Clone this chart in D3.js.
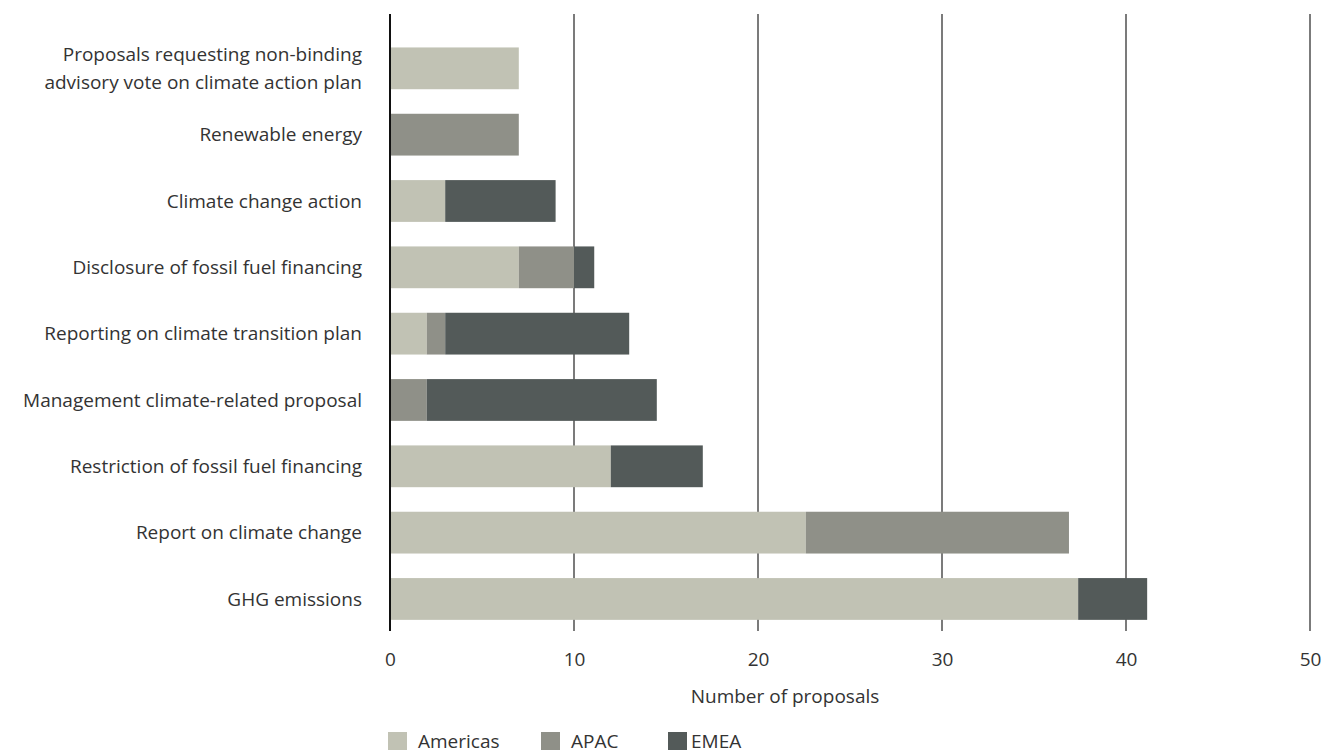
<!DOCTYPE html>
<html>
<head>
<meta charset="utf-8">
<script src="https://cdn.jsdelivr.net/npm/d3@7"></script>
<style>
  html, body { margin: 0; padding: 0; background: #fff; }
  svg { display: block; }
  text { font-family: "Open Sans", "Noto Sans", sans-serif; fill: #333; }
</style>
</head>
<body>
<svg id="chart" width="1322" height="754"></svg>
<script>
const categories = [
  "Proposals requesting non-binding|advisory vote on climate action plan",
  "Renewable energy",
  "Climate change action",
  "Disclosure of fossil fuel financing",
  "Reporting on climate transition plan",
  "Management climate-related proposal",
  "Restriction of fossil fuel financing",
  "Report on climate change",
  "GHG emissions"
];
const seriesNames = ["Americas", "APAC", "EMEA"];
const americas = [7, 0, 3, 7, 2, 0, 12, 22.6, 37.4];
const apac     = [0, 7, 0, 3, 1, 2, 0, 14.3, 0];
const emea     = [0, 0, 6, 1.1, 10, 12.5, 5, 0, 3.75];
const colors = ["#c1c2b4", "#8f9088", "#535a59"];
const xTicks = [0, 10, 20, 30, 40, 50];
const xTitle = "Number of proposals";

const svg = d3.select("#chart");
const x = d3.scaleLinear().domain([0, 50]).range([390, 1310]);
const y = d3.scaleBand().domain(categories).range([22.9, 644.4])
  .paddingInner(0.37).paddingOuter(0.37);

const rows = categories.map((c, i) => ({ cat: c, Americas: americas[i], APAC: apac[i], EMEA: emea[i] }));
const stacked = d3.stack().keys(seriesNames)(rows);

// gridlines
const grid = svg.append("g");
grid.selectAll("line").data(xTicks.filter(t => t > 0)).join("line")
  .attr("x1", d => x(d)).attr("x2", d => x(d))
  .attr("y1", 14).attr("y2", 631)
  .attr("stroke", "#5a5a5a").attr("stroke-width", 1.6);

// bars
svg.append("g").selectAll("g").data(stacked).join("g")
  .attr("fill", (d, i) => colors[i])
  .selectAll("rect").data(d => d).join("rect")
  .attr("x", d => x(d[0]))
  .attr("width", d => x(d[1]) - x(d[0]))
  .attr("y", d => y(d.data.cat))
  .attr("height", y.bandwidth());

// zero axis
svg.append("line").attr("x1", x(0)).attr("x2", x(0)).attr("y1", 14).attr("y2", 631)
  .attr("stroke", "#111").attr("stroke-width", 2);

// x axis tick labels
const xAxis = d3.axisBottom(x).tickValues(xTicks).tickSize(0).tickPadding(0);
const gx = svg.append("g").attr("transform", "translate(0,652)").call(xAxis);
gx.select(".domain").remove();
gx.selectAll("text").attr("font-size", 19).attr("dy", "0.71em")
  .style("font-family", "'Open Sans', sans-serif").attr("fill", "#333");

svg.append("text").attr("x", 785).attr("y", 703).attr("text-anchor", "middle")
  .attr("font-size", 19).text(xTitle);

// category labels
const yAxis = d3.axisLeft(y).tickSize(0).tickPadding(0).tickFormat("");
const gy = svg.append("g").attr("transform", "translate(362,0)").call(yAxis);
gy.select(".domain").remove();
gy.selectAll(".tick").each(function(d) {
  const lines = d.split("|");
  const t = d3.select(this).append("text").attr("text-anchor", "end")
    .attr("font-size", 19).attr("fill", "#333");
  lines.forEach((ln, i) => {
    t.append("tspan").attr("x", 0)
      .attr("dy", i === 0 ? ((0.35 - (lines.length - 1) * 0.72) + "em") : "1.44em")
      .text(ln);
  });
});

// legend
const legendX = [388, 541, 668];
const lg = svg.append("g").selectAll("g").data(seriesNames).join("g")
  .attr("transform", (d, i) => `translate(${legendX[i]},732)`);
lg.append("rect").attr("width", 19).attr("height", 18).attr("fill", (d, i) => colors[i]);
lg.append("text").attr("x", (d, i) => i === 2 ? 23 : 30).attr("y", 16)
  .attr("font-size", 19).text(d => d);
</script>
</body>
</html>
